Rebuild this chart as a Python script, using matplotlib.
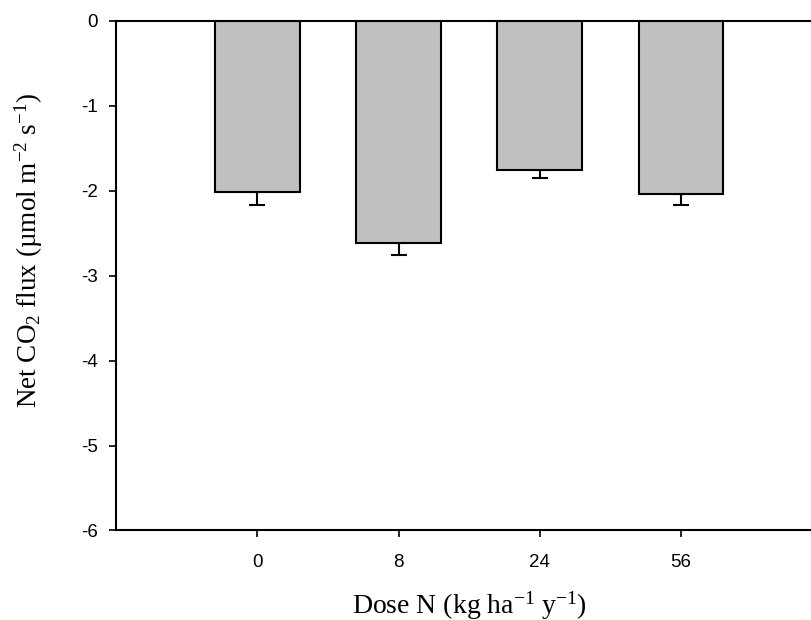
import matplotlib
matplotlib.use("Agg")
from matplotlib import pyplot as plt

# net CO2 flux per N dose
doses = ["0", "8", "24", "56"]
flux = [-2.02, -2.61, -1.75, -2.04]
flux_se = [0.15, 0.15, 0.10, 0.13]

plt.rcParams["font.family"] = "Liberation Sans"
plt.rcParams["axes.unicode_minus"] = False
plt.rcParams["mathtext.fontset"] = "custom"
plt.rcParams["mathtext.rm"] = "Liberation Serif"
plt.rcParams["mathtext.it"] = "Liberation Serif:italic"

fig = plt.figure(figsize=(8.11, 6.2), dpi=100)
ax = fig.add_axes([0.143, 0.1444, 0.871, 0.8218])

x = list(range(len(doses)))
ax.bar(x, flux, width=0.6, color="#c0c0c0", edgecolor="black", linewidth=1.5, zorder=2)
# only the lower half of the error bar is shown
ax.errorbar(x, flux, yerr=[flux_se, [0] * len(flux_se)], fmt="none", ecolor="black",
            elinewidth=1.5, capsize=6, capthick=1.5, zorder=1)

ax.set_xlim(-1, 4)
ax.set_ylim(-6, 0)
ax.set_xticks(x)
ax.set_xticklabels(doses)
ax.set_yticks(range(-6, 1))

ax.spines["right"].set_visible(False)
for s in ["left", "bottom", "top"]:
    ax.spines[s].set_linewidth(1.5)
ax.tick_params(direction="out", length=5, width=1.2, labelsize=13.5, pad=8)
ax.tick_params(axis="x", pad=12)

ax.set_xlabel("Dose N (kg ha$^{-1}$ y$^{-1}$)", fontsize=20, family="Liberation Serif")
ax.set_ylabel("Net CO$_2$ flux (µmol m$^{-2}$ s$^{-1}$)", fontsize=19.5, family="Liberation Serif")
ax.xaxis.set_label_coords(0.5, -0.115)
ax.yaxis.set_label_coords(-0.1, 0.55)

fig.savefig("out.png", dpi=100)
